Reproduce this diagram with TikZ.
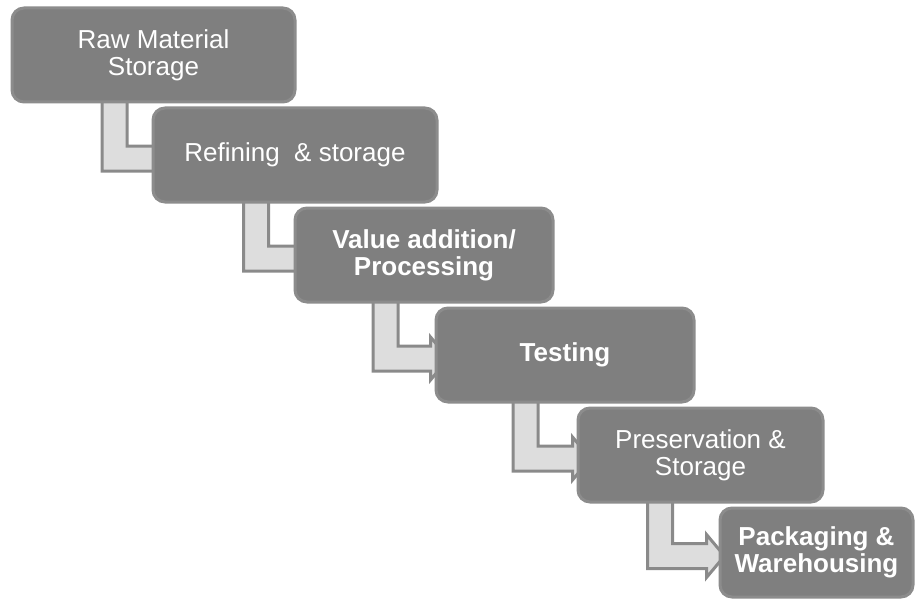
\documentclass[tikz,border=0pt]{standalone}
\usepackage{fontspec}
\setmainfont{Liberation Sans}
\usepackage{tikz}
\usetikzlibrary{calc}
\usetikzlibrary{backgrounds}

\definecolor{boxfill}{HTML}{7F7F7F}
\definecolor{boxedge}{HTML}{8C8C8C}
\definecolor{elbowfill}{HTML}{DDDDDD}
\definecolor{elbowedge}{HTML}{8A8A8A}

\tikzset{
  stage/.style={draw=boxedge, line width=3pt, fill=boxfill, rounded corners=12pt,
    text=white, align=center, inner sep=0pt,
    font=\fontsize{26pt}{27pt}\selectfont},
  elbowarrow/.style={draw=elbowedge, line width=3pt, fill=elbowfill}
}

% elbow arrow: source, target, shaft offset, head gap
\newcommand{\elbow}[4]{%
  \draw[elbowarrow] let \p1 = ($(#1.south west)+(#3,-6)$), \p2 = ($(#2.west)+(-#4,3.5)$) in
    (\x1-12.5pt,\y1) -- (\x1-12.5pt,\y2-12.5pt) -- (\x2,\y2-12.5pt) -- (\x2,\y2-21.5pt)
    -- (\x2+18pt,\y2) -- (\x2,\y2+21.5pt) -- (\x2,\y2+12.5pt)
    -- (\x1+12.5pt,\y2+12.5pt) -- (\x1+12.5pt,\y1) -- cycle;
}

\begin{document}
\begin{tikzpicture}[x=1pt, y=-1pt]
    \useasboundingbox (0,0) rectangle (915,599);

    % -------------------------------------------------------
    % Stages
    % -------------------------------------------------------
    \node[stage, minimum width=283pt, minimum height=94pt] (raw) at (153.5,55) {Raw Material\\Storage};
    \node[stage, minimum width=284pt, minimum height=94pt] (refine) at (295,155) {Refining~ \& storage};
    \node[stage, minimum width=258pt, minimum height=94pt] (value) at (424,255) {\bfseries Value addition/\\\bfseries Processing};
    \node[stage, minimum width=258pt, minimum height=94pt] (testing) at (565,355) {\bfseries Testing};
    \node[stage, minimum width=245pt, minimum height=94pt] (preserve) at (700.5,455) {Preservation \&\\Storage};
    \node[stage, minimum width=193pt, minimum height=89pt] (packaging) at (816.5,552.5) {\bfseries Packaging \&\\\bfseries Warehousing};

    % -------------------------------------------------------
    % Elbow arrows (behind the stages)
    % -------------------------------------------------------
    \begin{scope}[on background layer]
        \elbow{raw}{refine}{104}{-4}
        \elbow{refine}{value}{104.5}{-4}
        \elbow{value}{testing}{92}{4}
        \elbow{testing}{preserve}{91}{4}
        \elbow{preserve}{packaging}{83.5}{12}
    \end{scope}
\end{tikzpicture}
\end{document}
